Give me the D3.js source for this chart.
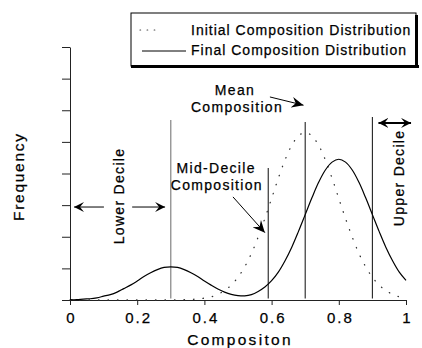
<!DOCTYPE html>
<html>
<head>
<meta charset="utf-8">
<script src="https://cdn.jsdelivr.net/npm/d3@7/dist/d3.min.js"></script>
<style>
html,body{margin:0;padding:0;background:#fff;}
svg{display:block;font-family:"Liberation Sans",Arial,Helvetica,sans-serif;}
svg text{stroke:#000;stroke-width:0.25px;}
</style>
</head>
<body>
<svg id="chart" width="422" height="348"></svg>
<script>
// ---- data ----
const compositions = [0,0.02,0.04,0.06,0.08,0.10,0.12,0.14,0.16,0.18,0.20,0.22,0.24,0.26,0.28,0.30,0.32,0.34,0.36,0.38,0.40,0.42,0.44,0.46,0.48,0.50,0.52,0.54,0.56,0.58,0.60,0.62,0.64,0.66,0.68,0.70,0.72,0.74,0.76,0.78,0.80,0.82,0.84,0.86,0.88,0.90,0.92,0.94,0.96,0.98,1.00];
const finalFreq = [0.01,0.01,0.03,0.04,0.07,0.12,0.17,0.25,0.36,0.47,0.60,0.74,0.86,0.96,1.03,1.05,1.03,0.96,0.86,0.74,0.60,0.47,0.35,0.25,0.18,0.14,0.13,0.17,0.27,0.41,0.61,0.88,1.24,1.67,2.17,2.70,3.23,3.72,4.11,4.36,4.45,4.36,4.11,3.72,3.23,2.70,2.17,1.67,1.24,0.88,0.62];
const initialFreq = [0,0,0,0,0,0,0,0,0,0,0,0,0,0,0,0,0,0.01,0.02,0.03,0.06,0.10,0.18,0.30,0.47,0.72,1.05,1.47,1.99,2.58,3.21,3.85,4.43,4.89,5.19,5.30,5.19,4.89,4.43,3.85,3.21,2.58,1.99,1.47,1.05,0.72,0.47,0.30,0.18,0.10,0.06];
const xTicks = [0,0.2,0.4,0.6,0.8,1];
const xTickLabels = ["0","0.2","0.4","0.6","0.8","1"];
const yTicks = [0,1,2,3,4,5,6,7,8];
// decile / mean markers: position and top of line (frequency units)
const markerX = [0.30,0.59,0.70,0.90];
const markerTop = [5.69,4.17,5.63,5.79];
const legendLabels = ["Initial Composition Distribution","Final Composition Distribution"];
const xTitle = "Compositon";
const yTitle = "Frequency";

// ---- layout ----
const svg = d3.select("#chart");
const x = d3.scaleLinear().domain([0,1]).range([70,406]);
const y = d3.scaleLinear().domain([0,8]).range([300,47]);

const defs = svg.append("defs");
defs.append("marker").attr("id","head").attr("viewBox","-12 -6 13 12")
  .attr("refX",0).attr("refY",0).attr("markerWidth",13).attr("markerHeight",12)
  .attr("markerUnits","userSpaceOnUse").attr("orient","auto-start-reverse")
  .append("path").attr("d","M0,0 L-12,-5.5 L-8,0 L-12,5.5 Z").attr("fill","#000");
defs.append("marker").attr("id","headS").attr("viewBox","-10 -5 11 10")
  .attr("refX",0).attr("refY",0).attr("markerWidth",11).attr("markerHeight",10)
  .attr("markerUnits","userSpaceOnUse").attr("orient","auto-start-reverse")
  .append("path").attr("d","M0,0 L-10,-5 L-6,0 L-10,5 Z").attr("fill","#000");

// axes
const yAxis = svg.append("g").attr("transform",`translate(${x(0)},0)`)
  .call(d3.axisLeft(y).tickValues(yTicks).tickSize(8).tickSizeOuter(0).tickFormat(""));
yAxis.selectAll("line,path").attr("stroke","#222").attr("stroke-width",1);

const xAxis = svg.append("g").attr("transform",`translate(0,${y(0)})`)
  .call(d3.axisBottom(x).tickValues(xTicks).tickSize(5).tickSizeOuter(0)
    .tickFormat((d,i)=>xTickLabels[i]));
xAxis.selectAll("line,path").attr("stroke","#222").attr("stroke-width",1);
xAxis.selectAll("text").attr("y",23).attr("dy",0).attr("font-size",15)
  .attr("fill","#000").style("letter-spacing","2px").attr("dx",1)
  .attr("font-family","'Liberation Sans',Arial,sans-serif");

svg.append("text").attr("x",x(0.5)+2).attr("y",345).attr("text-anchor","middle")
  .attr("font-size",15.5).style("letter-spacing","2.3px").text(xTitle);
svg.append("text").attr("transform",`translate(24,${y(3.9)}) rotate(-90)`)
  .attr("text-anchor","middle").attr("font-size",15.5).style("letter-spacing","1.7px").text(yTitle);

// marker vertical lines
svg.append("g").selectAll("line").data(markerX).join("line")
  .attr("x1",d=>x(d)).attr("x2",d=>x(d))
  .attr("y1",(d,i)=>y(markerTop[i])).attr("y2",y(0.05))
  .attr("stroke",(d,i)=>i===0?"#777":"#222").attr("stroke-width",1.1);

// curves
const line = d3.line().x((d,i)=>x(compositions[i])).y(d=>y(d)).curve(d3.curveCatmullRom);
svg.append("path").datum(initialFreq).attr("d",line).attr("fill","none")
  .attr("stroke","#333").attr("stroke-width",1.3).attr("stroke-linecap","round")
  .attr("stroke-dasharray","0.5 9");
svg.append("path").datum(finalFreq).attr("d",line).attr("fill","none")
  .attr("stroke","#000").attr("stroke-width",1.2);

// annotations
const arrows = [
  {x1:0.101,y1:2.94,x2:0.012,y2:2.94,m:"headS"},
  {x1:0.185,y1:2.94,x2:0.283,y2:2.94,m:"headS"},
  {x1:0.595,y1:6.42,x2:0.695,y2:6.16,m:"head"},
  {x1:0.485,y1:3.26,x2:0.580,y2:2.13,m:"head"}
];
svg.append("g").selectAll("line").data(arrows).join("line")
  .attr("x1",d=>x(d.x1)).attr("y1",d=>y(d.y1)).attr("x2",d=>x(d.x2)).attr("y2",d=>y(d.y2))
  .attr("stroke","#000").attr("stroke-width",1).attr("marker-end",d=>`url(#${d.m})`);
// upper decile double arrow
svg.append("line").attr("x1",x(0.918)).attr("x2",x(1.015)).attr("y1",y(5.6)).attr("y2",y(5.6))
  .attr("stroke","#000").attr("stroke-width",2)
  .attr("marker-start","url(#headS)").attr("marker-end","url(#headS)");

const texts = [
  {t:"Mean",x:0.491,y:6.48},
  {t:"Composition",x:0.497,y:5.94},
  {t:"Mid-Decile",x:0.435,y:4.02},
  {t:"Composition",x:0.437,y:3.48}
];
svg.append("g").selectAll("text").data(texts).join("text")
  .attr("x",d=>x(d.x)).attr("y",d=>y(d.y)).attr("text-anchor","middle")
  .attr("font-size",14).style("letter-spacing","1.3px").text(d=>d.t);
svg.append("text").attr("transform",`translate(${x(0.146)+5},${y(3.29)}) rotate(-90)`)
  .attr("text-anchor","middle").attr("font-size",14).style("letter-spacing","1.3px").text("Lower Decile");
svg.append("text").attr("transform",`translate(${x(0.979)+5},${y(3.86)}) rotate(-90)`)
  .attr("text-anchor","middle").attr("font-size",14).style("letter-spacing","1.3px").text("Upper Decile");

// legend
const lg = svg.append("g");
lg.append("rect").attr("x",131).attr("y",13).attr("width",285).attr("height",53)
  .attr("fill","#fff").attr("stroke","#000").attr("stroke-width",1);
lg.append("rect").attr("x",131).attr("y",65).attr("width",288).attr("height",3).attr("fill","#000");
lg.append("rect").attr("x",415).attr("y",15).attr("width",3).attr("height",53).attr("fill","#000");
lg.append("line").attr("x1",140).attr("x2",156).attr("y1",30).attr("y2",30)
  .attr("stroke","#444").attr("stroke-width",1.2).attr("stroke-dasharray","0.6 6.5").attr("stroke-linecap","round");
lg.append("line").attr("x1",142).attr("x2",186).attr("y1",51).attr("y2",51)
  .attr("stroke","#000").attr("stroke-width",1);
lg.selectAll("text.l").data(legendLabels).join("text").attr("class","l")
  .attr("x",191).attr("y",(d,i)=>35+i*20).attr("font-size",14)
  .style("letter-spacing","1.0px").text(d=>d);
</script>
</body>
</html>
